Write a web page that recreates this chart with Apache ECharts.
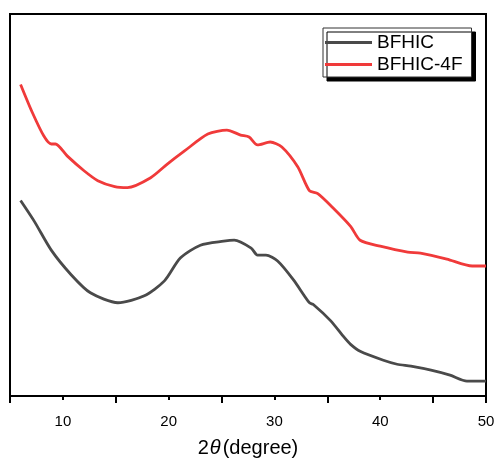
<!DOCTYPE html>
<html>
<head>
<meta charset="utf-8">
<script src="https://cdn.jsdelivr.net/npm/echarts@6/dist/echarts.min.js"></script>
<style>html,body{margin:0;padding:0;background:#fff;}#c{width:498px;height:463px;}</style>
</head>
<body>
<div id="c"></div>
<script>
// 2θ (degree)
const bfhicX = [6.0, 7.3, 8.9, 10.8, 12.6, 15.2, 17.7, 19.6, 21.1, 23.0, 25.2, 26.2, 27.8, 28.4, 29.2, 30.3, 31.8, 33.3, 33.7, 35.3, 36.6, 37.2, 38.1, 40.3, 41.6, 42.9, 44.8, 46.6, 48.2, 50.0];
const bfhicY = [197, 176, 147, 122, 104, 94, 101, 116, 139, 152, 156, 157, 149, 142, 142, 136, 117, 94, 92, 76, 59, 52, 45, 36, 32, 30, 26, 21, 15, 15];
const bfhic4fX = [6.0, 7.1, 8.2, 8.9, 9.3, 10.4, 12.0, 13.3, 14.9, 16.1, 18.3, 19.9, 21.5, 23.7, 25.5, 26.8, 27.6, 28.4, 29.6, 30.7, 32.2, 33.3, 34.1, 35.5, 37.2, 38.1, 40.0, 42.6, 43.8, 46.3, 48.7, 50.0];
const bfhic4fY = [314, 286, 262, 254, 254, 242, 227, 217, 211, 210, 220, 234, 247, 264, 268, 263, 261, 253, 256, 251, 231, 207, 204, 190, 171, 157, 151, 145, 144, 138, 131, 131];
const seriesNames = ['BFHIC', 'BFHIC-4F'];
const xTickLabels = [10, 20, 30, 40, 50];

const zip = (xs, ys) => xs.map((x, i) => [x, ys[i]]);
const chart = echarts.init(document.getElementById('c'), null, {renderer: 'canvas'});
const font = 'Liberation Sans, Arial, sans-serif';
chart.setOption({
  animation: false,
  backgroundColor: '#fff',
  grid: {left: 10, right: 12, top: 14, bottom: 64, show: true, borderColor: '#000', borderWidth: 2},
  legend: {
    data: seriesNames,
    orient: 'vertical',
    left: 323, top: 28,
    icon: 'rect',
    itemWidth: 47, itemHeight: 3,
    itemGap: 3,
    padding: [5, 9, 3, 2],
    borderColor: '#333', borderWidth: 1,
    backgroundColor: '#fff',
    shadowColor: '#000', shadowBlur: 0, shadowOffsetX: 4, shadowOffsetY: 4,
    textStyle: {fontFamily: font, fontSize: 19, color: '#000', padding: [0, 0, 0, 0]}
  },
  xAxis: [{
    type: 'value', min: 5, max: 50, interval: 5,
    axisLine: {show: true, lineStyle: {color: '#000', width: 2}},
    axisTick: {show: true, length: 4, lineStyle: {color: '#000', width: 2}},
    splitLine: {show: false},
    axisLabel: {
      fontFamily: font, fontSize: 15, color: '#000', margin: 18,
      formatter: v => (xTickLabels.indexOf(v) >= 0 ? String(v) : '')
    },
    name: '{n|2}{t|θ}{n|(degree)}',
    nameLocation: 'middle', nameGap: 42,
    nameTextStyle: {
      rich: {
        n: {fontFamily: font, fontSize: 20, color: '#000'},
        t: {fontFamily: font, fontSize: 20, fontStyle: 'italic', color: '#000', padding: [0, 2, 0, 1]}
      }
    }
  }, {
    type: 'value', min: 5, max: 50, interval: 10, position: 'bottom', gridIndex: 0,
    axisLine: {show: false},
    axisTick: {show: true, length: 7, lineStyle: {color: '#000', width: 2}},
    axisLabel: {show: false},
    splitLine: {show: false}
  }],
  yAxis: {
    type: 'value', min: 0, max: 385,
    axisLine: {show: false}, axisTick: {show: false}, axisLabel: {show: false}, splitLine: {show: false}
  },
  series: [{
    name: seriesNames[0], type: 'line', data: zip(bfhicX, bfhicY), showSymbol: false, smooth: 0.25,
    lineStyle: {color: '#4a4a4a', width: 2.8}, itemStyle: {color: '#4a4a4a'}
  }, {
    name: seriesNames[1], type: 'line', data: zip(bfhic4fX, bfhic4fY), showSymbol: false, smooth: 0.25,
    lineStyle: {color: '#f03a3a', width: 2.8}, itemStyle: {color: '#f03a3a'}
  }]
});
</script>
</body>
</html>
